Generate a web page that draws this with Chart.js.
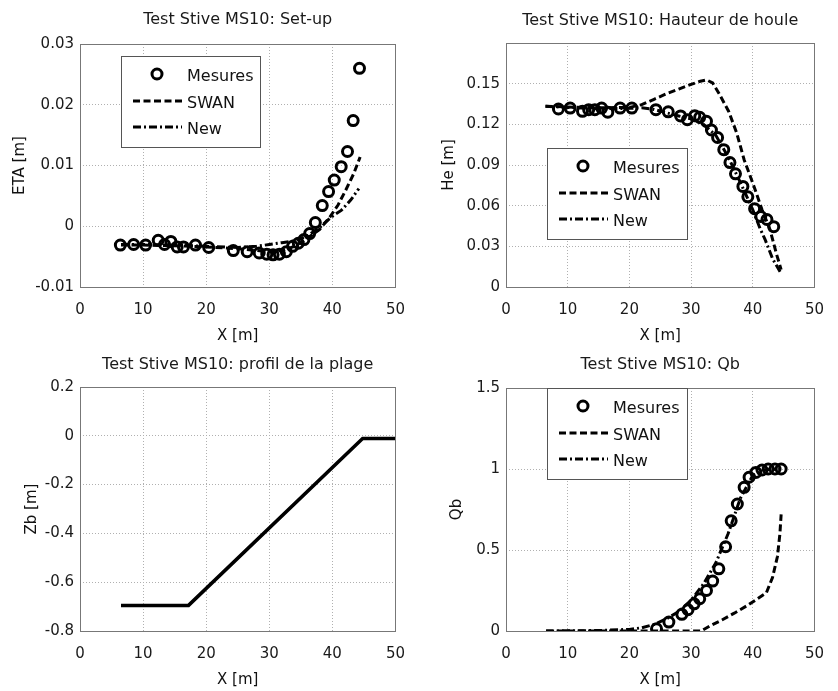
<!DOCTYPE html>
<html>
<head>
<meta charset="utf-8">
<script src="https://cdn.jsdelivr.net/npm/chart.js@4.4.1/dist/chart.umd.min.js"></script>
<style>
  html, body { margin: 0; padding: 0; background: #fff; }
  #page { position: relative; width: 838px; height: 691px; overflow: hidden; }
  canvas { position: absolute; }
</style>
</head>
<body>
<div id="page">
  <canvas id="c1" style="left:0;top:0" width="419" height="345"></canvas>
  <canvas id="c2" style="left:419px;top:0" width="419" height="345"></canvas>
  <canvas id="c3" style="left:0;top:345px" width="419" height="346"></canvas>
  <canvas id="c4" style="left:419px;top:345px" width="419" height="346"></canvas>
</div>
<script>
// valeurs
const xTicks = [0, 10, 20, 30, 40, 50];
const setupTicks = [-0.01, 0, 0.01, 0.02, 0.03];
const heTicks = [0, 0.03, 0.06, 0.09, 0.12, 0.15];
const profTicks = [-0.8, -0.6, -0.4, -0.2, 0, 0.2];
const qbTicks = [0, 0.5, 1, 1.5];

// Set-up
const setupMesX = [6.4, 8.5, 10.4, 12.4, 13.4, 14.4, 15.4, 16.4, 18.3, 20.4, 24.3, 26.5, 28.4, 29.6, 30.6, 31.6, 32.7, 33.7, 34.6, 35.5, 36.4, 37.3, 38.4, 39.4, 40.3, 41.4, 42.4, 43.3, 44.3];
const setupMesY = [-0.0031, -0.003, -0.0031, -0.0023, -0.003, -0.0025, -0.0034, -0.0034, -0.0031, -0.0035, -0.004, -0.0042, -0.0044, -0.0046, -0.0047, -0.0046, -0.0042, -0.0033, -0.0028, -0.0022, -0.0012, 0.0006, 0.0034, 0.0057, 0.0076, 0.0098, 0.0123, 0.0174, 0.026];
const setupSwanX = [6.5, 10, 15, 20, 25, 28, 30, 32, 34, 36, 38, 39.6, 40.9, 42.1, 43.4, 44.4];
const setupSwanY = [-0.0031, -0.0031, -0.0032, -0.0034, -0.0037, -0.004, -0.0042, -0.004, -0.0033, -0.002, -0.0005, 0.0015, 0.0035, 0.0059, 0.0087, 0.0114];
const setupNewX = [6.5, 10, 15, 20, 25, 28, 30, 32, 34, 36, 38, 39.8, 41.4, 42.9, 44.2];
const setupNewY = [-0.003, -0.003, -0.0031, -0.0033, -0.0035, -0.0033, -0.003, -0.0027, -0.0024, -0.0016, -0.0002, 0.0015, 0.0026, 0.0043, 0.0062];

// Hauteur de houle
const heMesX = [8.5, 10.4, 12.4, 13.4, 14.4, 15.5, 16.5, 18.5, 20.4, 24.3, 26.3, 28.3, 29.4, 30.6, 31.4, 32.5, 33.3, 34.3, 35.3, 36.3, 37.2, 38.4, 39.2, 40.3, 41.3, 42.3, 43.4];
const heMesY = [0.1313, 0.132, 0.1296, 0.1308, 0.1308, 0.132, 0.129, 0.132, 0.132, 0.1308, 0.1292, 0.1262, 0.1234, 0.1264, 0.1252, 0.1222, 0.1158, 0.1103, 0.1013, 0.0918, 0.0835, 0.0742, 0.0665, 0.0578, 0.052, 0.0498, 0.0445];
const heSwanX = [6.4, 10, 15, 20, 22, 24, 26, 28, 30, 31.5, 32.5, 33.5, 34.5, 36.1, 37.4, 38.6, 40.2, 41.5, 42.8, 43.8, 44.6];
const heSwanY = [0.1333, 0.1328, 0.1322, 0.1325, 0.1345, 0.1385, 0.1425, 0.146, 0.1495, 0.1518, 0.1528, 0.1505, 0.143, 0.1295, 0.1136, 0.0939, 0.0742, 0.057, 0.0423, 0.025, 0.0128];
const heNewX = [6.4, 10, 15, 20, 22, 24, 26, 28, 30, 32, 34, 36, 38, 40, 41.2, 42, 43.2, 44.6];
const heNewY = [0.1333, 0.1325, 0.1315, 0.1318, 0.1322, 0.131, 0.1285, 0.1262, 0.124, 0.12, 0.112, 0.096, 0.077, 0.057, 0.043, 0.035, 0.021, 0.01];

// Profil de la plage
const profX = [6.5, 17.2, 44.8, 50];
const profY = [-0.695, -0.695, -0.011, -0.011];

// Qb
const qbMesX = [24.4, 26.4, 28.5, 29.5, 30.5, 31.4, 32.5, 33.5, 34.5, 35.6, 36.5, 37.5, 38.6, 39.4, 40.5, 41.5, 42.5, 43.6, 44.6];
const qbMesY = [0.014, 0.055, 0.103, 0.131, 0.168, 0.199, 0.25, 0.308, 0.384, 0.52, 0.68, 0.784, 0.887, 0.949, 0.979, 0.994, 1.0, 1.0, 1.0];
const qbSwanX = [6.5, 20, 31.6, 33, 35, 37, 39, 40.4, 42.2, 43.2, 44, 44.4, 44.6];
const qbSwanY = [0, 0, 0, 0.03, 0.068, 0.11, 0.155, 0.19, 0.235, 0.33, 0.46, 0.6, 0.72];
const qbNewX = [6.5, 15, 20, 22, 24, 26, 28, 30, 32, 34, 36, 38, 40, 42, 44.6];
const qbNewY = [0, 0.003, 0.01, 0.02, 0.04, 0.075, 0.12, 0.19, 0.29, 0.42, 0.6, 0.82, 0.96, 0.995, 1.0];

const font = { family: 'DejaVu Sans', size: 15 };
const swanDash = [7, 3.5];
const newDash = [8, 3, 2, 3];

function pts(xs, ys) {
    return xs.map((x, i) => ({ x: x, y: ys[i] }));
}

function mesures(xs, ys) {
    return { label: 'Mesures', data: pts(xs, ys), showLine: false, pointStyle: 'circle',
        pointRadius: 5, pointBorderWidth: 3, pointBorderColor: '#000', pointBackgroundColor: 'rgba(0,0,0,0)' };
}

function courbe(label, xs, ys, dash) {
    return { label: label, data: pts(xs, ys), showLine: true, pointRadius: 0,
        borderColor: '#000', borderWidth: 3, borderDash: dash, tension: 0 };
}

// cadre autour de la zone du graphe
const cadre = {
    id: 'cadre',
    afterDatasetsDraw(chart) {
        const a = chart.chartArea, ctx = chart.ctx;
        ctx.save();
        ctx.strokeStyle = '#777';
        ctx.lineWidth = 1;
        ctx.strokeRect(Math.round(a.left) + 0.5, Math.round(a.top) + 0.5, Math.round(a.right - a.left), Math.round(a.bottom - a.top));
        ctx.restore();
    }
};

function titre(text, y) {
    return {
        id: 'titre',
        afterDraw(chart) {
            const a = chart.chartArea, ctx = chart.ctx;
            ctx.save();
            ctx.font = '16px "DejaVu Sans"';
            ctx.fillStyle = '#1a1a1a';
            ctx.textAlign = 'center';
            ctx.textBaseline = 'middle';
            ctx.fillText(text, (a.left + a.right) / 2, y);
            ctx.restore();
        }
    };
}

function legende(box) {
    return {
        id: 'legende',
        afterDatasetsDraw(chart) {
            if (!box) return;
            const ctx = chart.ctx;
            ctx.save();
            ctx.fillStyle = '#fff';
            ctx.strokeStyle = '#555';
            ctx.lineWidth = 1;
            ctx.fillRect(box.x, box.y, box.w, box.h);
            ctx.strokeRect(box.x + 0.5, box.y + 0.5, box.w, box.h);
            const rows = [18, 45, 71];
            chart.data.datasets.forEach((ds, i) => {
                const y = box.y + rows[i];
                ctx.strokeStyle = '#000';
                ctx.lineWidth = 3;
                if (ds.showLine) {
                    ctx.setLineDash(ds.borderDash);
                    ctx.beginPath();
                    ctx.moveTo(box.x + 12, y);
                    ctx.lineTo(box.x + 61, y);
                    ctx.stroke();
                    ctx.setLineDash([]);
                } else {
                    ctx.beginPath();
                    ctx.arc(box.x + 36, y, 5, 0, Math.PI * 2);
                    ctx.stroke();
                }
                ctx.fillStyle = '#111';
                ctx.font = '16px "DejaVu Sans"';
                ctx.textBaseline = 'middle';
                ctx.fillText(ds.label, box.x + 66, y + 3);
            });
            ctx.restore();
        }
    };
}

function panneau(id, o) {
    const cv = document.getElementById(id);
    const H = cv.height;
    return new Chart(cv, {
        type: 'scatter',
        data: { datasets: o.datasets },
        options: {
            responsive: false,
            animation: false,
            layout: { padding: { left: 0, top: o.area.top, right: cv.width - o.area.right, bottom: 0 } },
            plugins: { legend: { display: false }, tooltip: { enabled: false }, title: { display: false } },
            scales: {
                x: {
                    type: 'linear', min: 0, max: 50,
                    afterFit: s => { s.height = H - o.area.bottom; },
                    afterBuildTicks: s => { s.ticks = xTicks.map(v => ({ value: v })); },
                    grid: { color: '#b0b0b0', drawTicks: false },
                    border: { display: false, dash: [1, 2] },
                    ticks: { padding: 14, font: font, color: '#1a1a1a', callback: v => String(v) },
                    title: { display: true, text: 'X [m]', font: font, color: '#111', padding: { top: 0, bottom: o.xTitlePad } }
                },
                y: {
                    type: 'linear', min: o.yMin, max: o.yMax,
                    afterFit: s => { s.width = o.area.left; },
                    afterBuildTicks: s => { s.ticks = o.yTicks.map(v => ({ value: v })); },
                    grid: { color: '#b0b0b0', drawTicks: false },
                    border: { display: false, dash: [1, 2] },
                    ticks: { padding: 6, font: font, color: '#1a1a1a', callback: v => String(v) },
                    title: { display: true, text: o.yTitle, font: font, color: '#111', padding: { top: o.yTitlePad, bottom: 0 } }
                }
            }
        },
        plugins: [cadre, titre(o.title, o.titleY), legende(o.legend)]
    });
}

panneau('c1', {
    title: 'Test Stive MS10: Set-up', titleY: 20,
    area: { left: 80, top: 44, right: 404, bottom: 287 },
    yMin: -0.01, yMax: 0.03, yTicks: setupTicks, yTitle: 'ETA [m]', yTitlePad: 11, xTitlePad: 0,
    legend: { x: 121, y: 56, w: 139, h: 91 },
    datasets: [
        mesures(setupMesX, setupMesY),
        courbe('SWAN', setupSwanX, setupSwanY, swanDash),
        courbe('New', setupNewX, setupNewY, newDash)
    ]
});

panneau('c2', {
    title: 'Test Stive MS10: Hauteur de houle', titleY: 21,
    area: { left: 87, top: 43, right: 410, bottom: 287 },
    yMin: 0, yMax: 0.18, yTicks: heTicks, yTitle: 'He [m]', yTitlePad: 21, xTitlePad: 0,
    legend: { x: 128, y: 148, w: 140, h: 91 },
    datasets: [
        mesures(heMesX, heMesY),
        courbe('SWAN', heSwanX, heSwanY, swanDash),
        courbe('New', heNewX, heNewY, newDash)
    ]
});

panneau('c3', {
    title: 'Test Stive MS10: profil de la plage', titleY: 20,
    area: { left: 80, top: 42, right: 404, bottom: 286 },
    yMin: -0.8, yMax: 0.2, yTicks: profTicks, yTitle: 'Zb [m]', yTitlePad: 23, xTitlePad: 2,
    legend: null,
    datasets: [
        { label: 'Zb', data: pts(profX, profY), showLine: true, pointRadius: 0, borderColor: '#000', borderWidth: 3.5 }
    ]
});

panneau('c4', {
    title: 'Test Stive MS10: Qb', titleY: 20,
    area: { left: 87, top: 43, right: 410, bottom: 286 },
    yMin: 0, yMax: 1.5, yTicks: qbTicks, yTitle: 'Qb', yTitlePad: 29, xTitlePad: 2,
    legend: { x: 128, y: 43, w: 140, h: 91 },
    datasets: [
        mesures(qbMesX, qbMesY),
        courbe('SWAN', qbSwanX, qbSwanY, swanDash),
        courbe('New', qbNewX, qbNewY, newDash)
    ]
});
</script>
</body>
</html>
